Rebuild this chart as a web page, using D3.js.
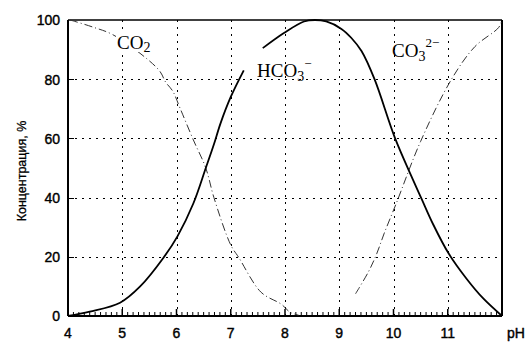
<!DOCTYPE html>
<html><head><meta charset="utf-8">
<script src="https://cdn.jsdelivr.net/npm/d3@7"></script>
<style>body{margin:0;background:#fff}svg{display:block}</style>
</head><body>
<svg id="c" width="527" height="342"></svg>
<script>
const xTicks = [4,5,6,7,8,9,10,11];
const yTicks = [0,20,40,60,80,100];
const co2PH  = [4.04,4.46,4.83,5.48,5.7,5.8,5.93,6.07,6.31,6.54,6.69,7.0,7.15,7.56,7.93,8.1,8.25];
const co2Val = [100,97.6,95,86.5,82.5,79,76,70,59.5,50,40,24,19.7,8,4,1.2,0.3];
const hco3aPH  = [4.0,4.4,4.96,5.33,5.76,6.02,6.31,6.54,6.69,6.81,7.0,7.24];
const hco3aVal = [0,1.5,4.5,10,19.7,27,38,50,58,65,74,83];
const hco3bPH  = [7.59,7.98,8.35,8.55,8.76,9.04,9.22,9.41,9.65,10.03,10.36,10.52,10.73,11.02,11.35,11.65,12.0];
const hco3bVal = [90.5,95.6,99.5,100,99.5,97,94,89.5,80,60,46,39.5,31,21,12.5,6,0];
const co3PH  = [9.3,9.54,9.69,9.83,10.05,10.5,11.07,11.5,11.94,12.0];
const co3Val = [7.5,15,21,28,38,59,80,91,97.5,100];

const svg = d3.select("#c");
const x = d3.scaleLinear().domain([4,12]).range([68,502]);
const y = d3.scaleLinear().domain([0,100]).range([316,20]);
const font = "'Liberation Sans', Arial, sans-serif";
const px = v => Math.round(v) + 0.5;

// grid
const g = svg.append("g").attr("shape-rendering","crispEdges");
xTicks.filter(v=>v>4).forEach(v=>{
  g.append("line").attr("x1",px(x(v))).attr("x2",px(x(v))).attr("y1",y(100)).attr("y2",y(0))
   .attr("stroke","#000").attr("stroke-width",1).attr("stroke-dasharray","2,5");
});
yTicks.filter(v=>v>0 && v<100).forEach(v=>{
  g.append("line").attr("x1",x(4)).attr("x2",x(12)).attr("y1",px(y(v))).attr("y2",px(y(v)))
   .attr("stroke","#000").attr("stroke-width",1).attr("stroke-dasharray","2,5");
  g.append("line").attr("x1",x(4)).attr("x2",x(4)+6).attr("y1",px(y(v))).attr("y2",px(y(v)))
   .attr("stroke","#000").attr("stroke-width",1.5);
});

// x axis with minor ticks
const xAxis = d3.axisBottom(x).tickValues(d3.range(40,121).map(d=>d/10)).tickSize(0).tickFormat("");
const xa = svg.append("g").attr("transform","translate(0,316)").call(xAxis);
xa.select(".domain").remove();
d3.range(40,121).forEach(d=>{
  const v=d/10, major = d%10===0;
  svg.append("line").attr("x1",x(v)).attr("x2",x(v)).attr("y1",316).attr("y2",316-(major?7:4))
    .attr("stroke","#000").attr("stroke-width",major?1.5:1);
});
xTicks.forEach(v=>{
  svg.append("text").attr("x",x(v)).attr("y",338).attr("text-anchor","middle")
    .attr("font-family",font).attr("font-size",14).attr("stroke","#000").attr("stroke-width",0.4).text(v);
});
svg.append("text").attr("x",516).attr("y",338).attr("text-anchor","middle")
  .attr("font-family",font).attr("font-size",14).attr("stroke","#000").attr("stroke-width",0.4).text("pH");

// y labels
const yAxis = d3.axisLeft(y).tickValues(yTicks).tickSize(0).tickPadding(8);
const ya = svg.append("g").attr("transform","translate(68,0)").call(yAxis);
ya.select(".domain").remove();
ya.selectAll("text").attr("font-family",font).attr("font-size",14).attr("fill","#000")
  .attr("stroke","#000").attr("stroke-width",0.4).attr("dy","0.35em");

svg.append("text").attr("transform","translate(26,171) rotate(-90)").attr("text-anchor","middle")
  .attr("font-family",font).attr("font-size",12.5).attr("stroke","#000").attr("stroke-width",0.3)
  .text("Концентрация, %");

// frame
svg.append("line").attr("x1",x(4)).attr("x2",x(12)).attr("y1",y(100)).attr("y2",y(100)).attr("stroke","#000").attr("stroke-width",1.5);
svg.append("line").attr("x1",x(4)).attr("x2",x(12)).attr("y1",y(0)).attr("y2",y(0)).attr("stroke","#000").attr("stroke-width",2);
svg.append("line").attr("x1",x(4)).attr("x2",x(4)).attr("y1",y(100)).attr("y2",y(0)).attr("stroke","#000").attr("stroke-width",2);
svg.append("line").attr("x1",x(12)).attr("x2",x(12)).attr("y1",y(100)).attr("y2",y(0)).attr("stroke","#000").attr("stroke-width",2);

// curves
const line = d3.line().x(d=>x(d[0])).y(d=>y(d[1])).curve(d3.curveCatmullRom.alpha(0.5));
const zip = (a,b)=>a.map((v,i)=>[v,b[i]]);
svg.append("path").attr("d",line(zip(co2PH,co2Val))).attr("fill","none")
  .attr("stroke","#333").attr("stroke-width",1).attr("stroke-dasharray","8,3,1,3");
svg.append("path").attr("d",line(zip(co3PH,co3Val))).attr("fill","none")
  .attr("stroke","#333").attr("stroke-width",1).attr("stroke-dasharray","8,3,1,3");
svg.append("path").attr("d",line(zip(hco3aPH,hco3aVal))).attr("fill","none")
  .attr("stroke","#000").attr("stroke-width",1.8);
svg.append("path").attr("d",line(zip(hco3bPH,hco3bVal))).attr("fill","none")
  .attr("stroke","#000").attr("stroke-width",1.8);

// labels
const tf = "'Liberation Serif','Times New Roman',serif";
svg.append("rect").attr("x",116).attr("y",32).attr("width",36).attr("height",20).attr("fill","#fff");
const t1 = svg.append("text").attr("x",117).attr("y",49).attr("font-family",tf).attr("font-size",19);
t1.append("tspan").text("CO");
t1.append("tspan").attr("font-size",14).attr("dy",3).text("2");

const t2 = svg.append("text").attr("x",257).attr("y",77).attr("font-family",tf).attr("font-size",19);
t2.append("tspan").text("HCO");
t2.append("tspan").attr("font-size",14).attr("dy",4).text("3");
t2.append("tspan").attr("font-size",13).attr("dy",-13).text("−");

const t3 = svg.append("text").attr("x",392).attr("y",57).attr("font-family",tf).attr("font-size",19);
t3.append("tspan").text("CO");
t3.append("tspan").attr("font-size",14).attr("dy",4).text("3");
t3.append("tspan").attr("font-size",13).attr("dy",-14).text("2−");
</script>
</body></html>
